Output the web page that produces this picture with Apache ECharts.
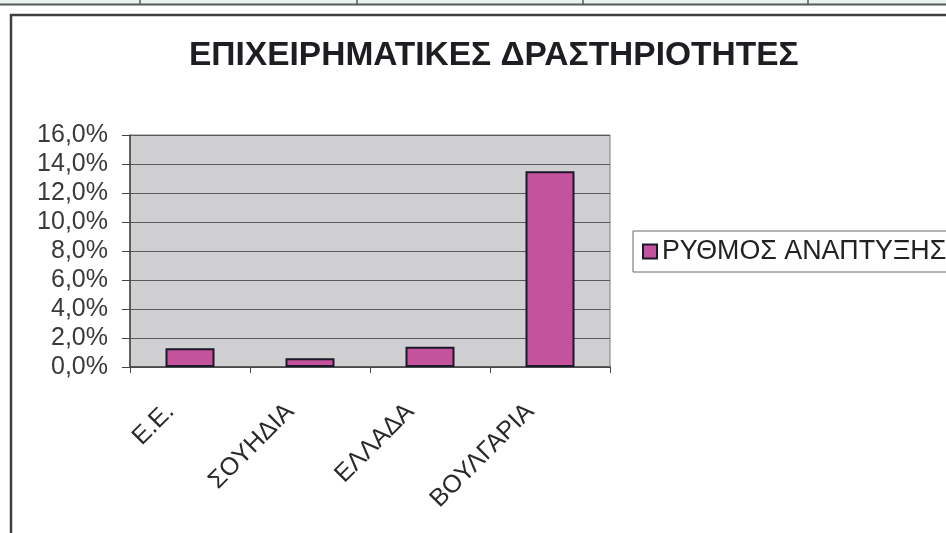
<!DOCTYPE html>
<html>
<head>
<meta charset="utf-8">
<script src="https://cdn.jsdelivr.net/npm/echarts@6/dist/echarts.min.js"></script>
<style>
  html, body { margin: 0; padding: 0; background: #ffffff; }
  #chart { width: 946px; height: 533px; }
</style>
</head>
<body>
<div id="chart"></div>
<script>
// Growth rate of business activity by region (percent)
const titleText = 'ΕΠΙΧΕΙΡΗΜΑΤΙΚΕΣ ΔΡΑΣΤΗΡΙΟΤΗΤΕΣ';
const seriesName = 'ΡΥΘΜΟΣ ΑΝΑΠΤΥΞΗΣ';
const categories = ['Ε.Ε.', 'ΣΟΥΗΔΙΑ', 'ΕΛΛΑΔΑ', 'ΒΟΥΛΓΑΡΙΑ'];
const growthRates = [1.3, 0.6, 1.4, 13.5];
const axisMin = 0;
const axisMax = 16;
const axisStep = 2;

const FONT = '"Liberation Sans", Arial, sans-serif';
const chart = echarts.init(document.getElementById('chart'), null, { renderer: 'canvas' });

const fmtPct = v => v.toFixed(1).replace('.', ',') + '%';

chart.setOption({
  backgroundColor: '#ffffff',
  animation: false,
  textStyle: { fontFamily: FONT },
  title: {
    text: titleText,
    left: 189,
    top: 39,
    padding: 0,
    textStyle: { fontFamily: FONT, fontSize: 33.5, fontWeight: 'bold', color: '#1e1e22' }
  },
  legend: {
    left: 633,
    top: 231,
    orient: 'vertical',
    icon: 'rect',
    itemWidth: 14,
    itemHeight: 14,
    itemGap: 0,
    padding: [7, 80, 7, 9],
    borderColor: '#6a6a6a',
    borderWidth: 1,
    backgroundColor: '#ffffff',
    textStyle: { fontFamily: FONT, fontSize: 26.8, color: '#222222', padding: [0, 0, 0, 0] },
    itemStyle: { borderColor: '#1a1a2a', borderWidth: 2 },
    data: [seriesName]
  },
  grid: {
    left: 130,
    right: 336,
    top: 135,
    bottom: 166,
    show: true,
    backgroundColor: '#d0d0d2',
    borderColor: '#7a7a7a',
    borderWidth: 1
  },
  xAxis: {
    type: 'category',
    data: categories,
    boundaryGap: true,
    axisLine: { show: true, lineStyle: { color: '#444444', width: 1.5 } },
    axisTick: { show: true, length: 6, inside: false, alignWithLabel: false, lineStyle: { color: '#444444' } },
    axisLabel: {
      rotate: 45,
      margin: 21,
      padding: [0, 28, 0, 0],
      fontFamily: FONT,
      fontSize: 25,
      color: '#2a2a2a',
      interval: 0
    }
  },
  yAxis: {
    type: 'value',
    min: axisMin,
    max: axisMax,
    interval: axisStep,
    axisLine: { show: true, lineStyle: { color: '#444444', width: 1.5 } },
    axisTick: { show: true, length: 8, inside: false, lineStyle: { color: '#444444' } },
    splitLine: { show: true, lineStyle: { color: '#5a5a5a', width: 1 } },
    axisLabel: {
      margin: 22,
      fontFamily: FONT,
      fontSize: 25,
      color: '#3a3a3a',
      formatter: fmtPct
    }
  },
  series: [{
    name: seriesName,
    type: 'bar',
    data: growthRates,
    barWidth: 49,
    itemStyle: { color: '#c4529c', borderColor: '#1a1a2a', borderWidth: 2 }
  }],
  graphic: [
    { type: 'rect', silent: true, z: -1, shape: { x: 0, y: 0, width: 946, height: 4 }, style: { fill: '#e9f1f1' } },
    { type: 'line', silent: true, shape: { x1: 0, y1: 4.5, x2: 946, y2: 4.5 }, style: { stroke: '#555b5b', lineWidth: 2 } },
    { type: 'line', silent: true, shape: { x1: 140, y1: 0, x2: 140, y2: 4 }, style: { stroke: '#555b5b', lineWidth: 1.5 } },
    { type: 'line', silent: true, shape: { x1: 357, y1: 0, x2: 357, y2: 4 }, style: { stroke: '#555b5b', lineWidth: 1.5 } },
    { type: 'line', silent: true, shape: { x1: 583, y1: 0, x2: 583, y2: 4 }, style: { stroke: '#555b5b', lineWidth: 1.5 } },
    { type: 'line', silent: true, shape: { x1: 808, y1: 0, x2: 808, y2: 4 }, style: { stroke: '#555b5b', lineWidth: 1.5 } },
    { type: 'rect', silent: true, shape: { x: 11, y: 15, width: 960, height: 560 }, style: { fill: 'none', stroke: '#404040', lineWidth: 2.5 } }
  ]
});
</script>
</body>
</html>
